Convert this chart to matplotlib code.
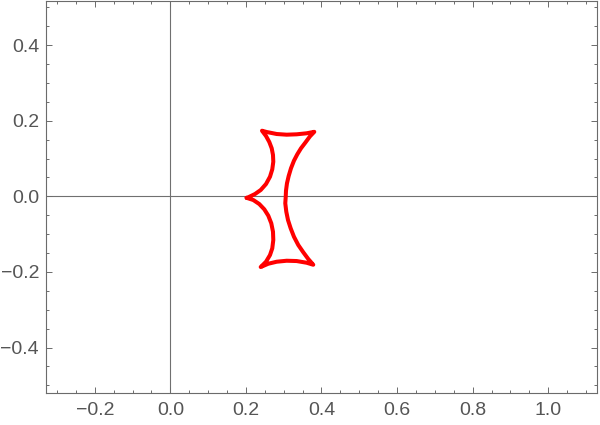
import matplotlib
matplotlib.use("Agg")
import matplotlib.pyplot as plt
from matplotlib.ticker import MultipleLocator

# points, traced once round the closed loop
# (left cusp -> upper-left cusp -> upper-right cusp -> lower-right cusp
#  -> lower-left cusp -> left cusp)
curve_x = [0.2019, 0.2063, 0.2241, 0.2392, 0.2532, 0.2638, 0.2698, 0.2725,
           0.2717, 0.2683, 0.2619, 0.2532, 0.2426,
           0.2550, 0.2815, 0.3079, 0.3344, 0.3608, 0.3810,
           0.3696, 0.3571, 0.3458, 0.3360, 0.3272, 0.3193, 0.3132, 0.3087,
           0.3061, 0.3053, 0.3042, 0.3069, 0.3114, 0.3185, 0.3272, 0.3386,
           0.3519, 0.3651, 0.3783,
           0.3608, 0.3344, 0.3079, 0.2815, 0.2593, 0.2392,
           0.2532, 0.2638, 0.2698, 0.2725, 0.2717, 0.2672, 0.2593, 0.2487,
           0.2354, 0.2196, 0.2019]
curve_y = [-0.0040, -0.0026, 0.0061, 0.0167, 0.0325, 0.0519, 0.0714, 0.0915,
           0.1093, 0.1270, 0.1437, 0.1595, 0.1735,
           0.1701, 0.1648, 0.1630, 0.1640, 0.1667, 0.1706,
           0.1587, 0.1418, 0.1270, 0.1111, 0.0942, 0.0741, 0.0537, 0.0344,
           0.0148, -0.0026, -0.0185, -0.0407, -0.0627, -0.0847, -0.1069, -0.1288,
           -0.1481, -0.1659, -0.1810,
           -0.1757, -0.1712, -0.1704, -0.1730, -0.1783, -0.1870,
           -0.1730, -0.1553, -0.1376, -0.1156, -0.0937, -0.0714, -0.0513, -0.0344,
           -0.0204, -0.0098, -0.0040]

x_range = (-0.329, 1.13)
y_range = (-0.521, 0.517)

plt.rcParams['font.family'] = ['Liberation Sans', 'DejaVu Sans']

fig = plt.figure(figsize=(6, 4.25), dpi=100)
ax = fig.add_axes([0.0767, 0.0746, 0.9188, 0.9234])

frame_col = '#6b6b6b'
ax.axhline(0, color='#707070', lw=0.8, zorder=1)
ax.axvline(0, color='#707070', lw=0.8, zorder=1)

ax.plot(curve_x, curve_y, color='#ff0000', lw=2.9, solid_joinstyle='round',
        solid_capstyle='round', zorder=3)

ax.set_xlim(*x_range)
ax.set_ylim(*y_range)

ax.xaxis.set_major_locator(MultipleLocator(0.2))
ax.xaxis.set_minor_locator(MultipleLocator(0.05))
ax.yaxis.set_major_locator(MultipleLocator(0.2))
ax.yaxis.set_minor_locator(MultipleLocator(0.05))
fmt = plt.FuncFormatter(lambda v, p: ('%.1f' % v).replace('-', '\u2212'))
ax.xaxis.set_major_formatter(fmt)
ax.yaxis.set_major_formatter(fmt)

for s in ax.spines.values():
    s.set_color(frame_col)
    s.set_linewidth(0.8)

ax.tick_params(which='both', direction='in', top=True, right=True,
               color=frame_col, width=0.7)
ax.tick_params(which='major', length=4.5)
ax.tick_params(which='minor', length=2.5)
ax.tick_params(axis='x', which='major', pad=6.5, labelsize=14, labelcolor='#555555')
ax.tick_params(axis='y', which='major', pad=5, labelsize=14, labelcolor='#555555')

fig.savefig('out.png', dpi=100)
